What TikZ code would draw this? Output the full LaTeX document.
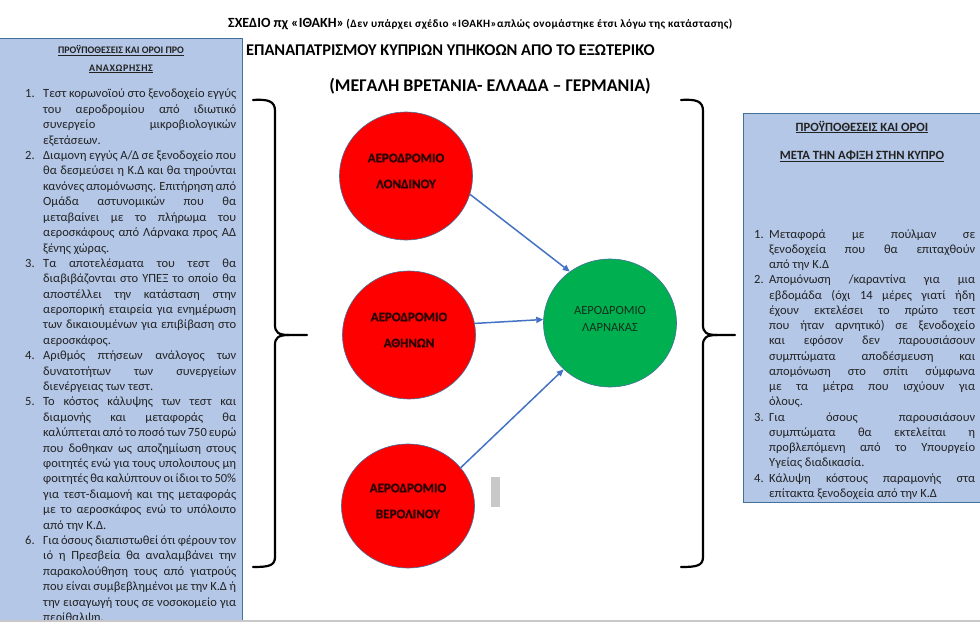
\documentclass[tikz,border=0pt]{standalone}
\usepackage{fontspec}
\setmainfont{Carlito}
\usetikzlibrary{shapes.geometric,arrows.meta}
\definecolor{panel}{HTML}{B4C7E7}
\definecolor{panelline}{HTML}{41719C}
\definecolor{arrowblue}{HTML}{4472C4}
\definecolor{redfill}{HTML}{FF0000}
\definecolor{greenfill}{HTML}{00B050}
\definecolor{redtext}{HTML}{2A0000}
\definecolor{greentext}{HTML}{10301A}
\definecolor{bodytext}{HTML}{222222}
\definecolor{barfill}{HTML}{C8C8C8}
\newlength\numw
\newcommand\txj[2]{\hbox to \hsize{\hbox to \numw{#1\hfil}\hbox to \dimexpr\hsize-\numw\relax{#2}}}
\newcommand\txl[2]{\hbox to \hsize{\hbox to \numw{#1\hfil}#2\hfil}}
\begin{document}
\begin{tikzpicture}[x=1pt,y=-1pt,
  panelbox/.style={fill=panel,draw=panelline,line width=1pt},
  airport/.style={ellipse,draw=panelline,line width=0.6pt,minimum width=133pt,minimum height=128pt,inner sep=0pt},
  redair/.style={airport,fill=redfill},
  greenair/.style={airport,fill=greenfill},
  redlbl/.style={font=\fontsize{13}{26}\selectfont\bfseries\addfontfeature{FakeBold=1},text=redtext,align=center,inner sep=0pt},
  greenlbl/.style={font=\fontsize{12.5}{17}\selectfont,text=greentext,align=center,inner sep=0pt},
  flow/.style={draw=arrowblue,line width=1.5pt,-{Triangle[length=7pt,width=6pt]}},
  bracestyle/.style={line width=2.2pt,line cap=round,line join=round},
  bodytxt/.style={font=\fontsize{12.5}{15.4}\selectfont,text=bodytext,inner sep=0pt,anchor=base west},
  lheadtxt/.style={font=\fontsize{10}{12}\selectfont\bfseries,text=bodytext,inner sep=0pt,anchor=base},
  rheadtxt/.style={font=\fontsize{12.6}{14}\selectfont\bfseries,text=bodytext,inner sep=0pt,anchor=base},
  titletxt/.style={font=\fontsize{16.4}{18}\selectfont\bfseries,text=black,inner sep=0pt}
]
\useasboundingbox (0,0) rectangle (980,626);
\fill[white] (0,0) rectangle (980,626);

% panels
\path[panelbox] (-5,39) rectangle (242,630);
\path[panelbox] (743,113) rectangle (990,502);

% titles
\node[anchor=base west,inner sep=0pt] (t1) at (228,28)
  {{\fontsize{14}{16}\selectfont\bfseries ΣΧΕΔΙΟ πχ «ΙΘΑΚΗ»} {\fontsize{11.2}{12}\selectfont\bfseries\addfontfeature{LetterSpace=4}(Δεν υπάρχει σχέδιο «ΙΘΑΚΗ»απλώς ονομάστηκε έτσι λόγω της κατάστασης)}};
\node[titletxt,anchor=base west] (t2) at (246,56) {ΕΠΑΝΑΠΑΤΡΙΣΜΟΥ ΚΥΠΡΙΩΝ ΥΠΗΚΟΩΝ ΑΠΌ ΤΟ ΕΞΩΤΕΡΙΚΟ};
\node[titletxt,anchor=base,font=\fontsize{17.9}{19}\selectfont\bfseries] (t3) at (490,92) {(ΜΕΓΑΛΗ ΒΡΕΤΑΝΙΑ- ΕΛΛΑΔΑ – ΓΕΡΜΑΝΙΑ)};

% left panel headings
\node[lheadtxt] (lh1) at (121,54) {\underline{ΠΡΟΫΠΟΘΕΣΕΙΣ ΚΑΙ ΟΡΟΙ ΠΡΟ}};
\node[lheadtxt,font=\fontsize{10}{12}\selectfont\bfseries\addfontfeature{LetterSpace=6}] (lh2) at (121,71) {\underline{ΑΝΑΧΩΡΗΣΗΣ}};

% left list
\node[bodytxt] (ltext) at (25,98) {\vtop{\hsize=211pt \numw=18pt \baselineskip=15.4pt \lineskiplimit=-20pt
\txj{1.}{Τεστ κορωνοϊού στο ξενοδοχείο εγγύς}
\txj{}{του αεροδρομίου από ιδιωτικό}
\txj{}{συνεργείο μικροβιολογικών}
\txl{}{εξετάσεων.}
\txj{2.}{Διαμονη εγγύς Α/Δ σε ξενοδοχείο που}
\txj{}{θα δεσμεύσει η Κ.Δ και θα τηρούνται}
\txj{}{κανόνες απομόνωσης. Επιτήρηση από}
\txj{}{Ομάδα αστυνομικών που θα}
\txj{}{μεταβαίνει με το πλήρωμα του}
\txj{}{αεροσκάφους από Λάρνακα προς ΑΔ}
\txl{}{ξένης χώρας.}
\txj{3.}{Τα αποτελέσματα του τεστ θα}
\txj{}{διαβιβάζονται στο ΥΠΕΞ το οποίο θα}
\txj{}{αποστέλλει την κατάσταση στην}
\txj{}{αεροπορική εταιρεία για ενημέρωση}
\txj{}{των δικαιουμένων για επιβίβαση στο}
\txl{}{αεροσκάφος.}
\txj{4.}{Αριθμός πτήσεων ανάλογος των}
\txj{}{δυνατοτήτων των συνεργείων}
\txl{}{διενέργειας των τεστ.}
\txj{5.}{Το κόστος κάλυψης των τεστ και}
\txj{}{διαμονής και μεταφοράς θα}
\txj{}{καλύπτεται από το ποσό των 750 ευρώ}
\txj{}{που δοθηκαν ως αποζημίωση στους}
\txj{}{φοιτητές ενώ για τους υπολοιπους μη}
\txj{}{φοιτητές θα καλύπτουν οι ίδιοι το 50\%}
\txj{}{για τεστ-διαμονή και της μεταφοράς}
\txj{}{με το αεροσκάφος ενώ το υπόλοιπο}
\txl{}{από την Κ.Δ.}
\txj{6.}{Για όσους διαπιστωθεί ότι φέρουν τον}
\txj{}{ιό η Πρεσβεία θα αναλαμβάνει την}
\txj{}{παρακολούθηση τους από γιατρούς}
\txj{}{που είναι συμβεβλημένοι με την Κ.Δ ή}
\txj{}{την εισαγωγή τους σε νοσοκομείο για}
\txl{}{περίθαλψη.}
}};

% right panel headings
\node[rheadtxt] (rh1) at (862,131) {\underline{ΠΡΟΫΠΟΘΕΣΕΙΣ ΚΑΙ ΟΡΟΙ}};
\node[rheadtxt] (rh2) at (862,159) {\underline{ΜΕΤΑ ΤΗΝ ΑΦΙΞΗ ΣΤΗΝ ΚΥΠΡΟ}};

% right list
\node[bodytxt] (rtext) at (754,238) {\vtop{\hsize=221pt \numw=15pt \baselineskip=15.25pt \lineskiplimit=-20pt
\txj{1.}{Μεταφορά με πούλμαν σε}
\txj{}{ξενοδοχεία που θα επιταχθούν}
\txl{}{από την Κ.Δ}
\txj{2.}{Απομόνωση /καραντίνα για μια}
\txj{}{εβδομάδα (όχι 14 μέρες γιατί ήδη}
\txj{}{έχουν εκτελέσει το πρώτο τεστ}
\txj{}{που ήταν αρνητικό) σε ξενοδοχείο}
\txj{}{και εφόσον δεν παρουσιάσουν}
\txj{}{συμπτώματα αποδέσμευση και}
\txj{}{απομόνωση στο σπίτι σύμφωνα}
\txj{}{με τα μέτρα που ισχύουν για}
\txl{}{όλους.}
\txj{3.}{Για όσους παρουσιάσουν}
\txj{}{συμπτώματα θα εκτελείται η}
\txj{}{προβλεπόμενη από το Υπουργείο}
\txl{}{Υγείας διαδικασία.}
\txj{4.}{Κάλυψη κόστους παραμονής στα}
\txl{}{επίτακτα ξενοδοχεία από την Κ.Δ}
}};

% braces
\draw[bracestyle] (253,100) .. controls (268,99) and (275,101) .. (275,111) -- (275,325)
  .. controls (275,332) and (278,335) .. (289,335) -- (307,335);
\draw[bracestyle] (289,335) .. controls (278,335) and (275,338) .. (275,345) -- (275,557)
  .. controls (275,566) and (268,567) .. (253,567);
\begin{scope}[xshift=428pt]
\draw[bracestyle] (253,100) .. controls (268,99) and (275,101) .. (275,111) -- (275,325)
  .. controls (275,332) and (278,335) .. (289,335) -- (307,335);
\draw[bracestyle] (289,335) .. controls (278,335) and (275,338) .. (275,345) -- (275,557)
  .. controls (275,566) and (268,567) .. (253,567);
\end{scope}

% airports
\node[redair] (lon) at (406,176) {};
\node[redair] (ath) at (409,335) {};
\node[redair,minimum height=124pt] (ber) at (408,506) {};
\node[greenair] (lar) at (610,323) {};
\node[redlbl] (lont) at (406,171) {ΑΕΡΟΔΡΟΜΙΟ\\ΛΟΝΔΙΝΟΥ};
\node[redlbl] (atht) at (409,330) {ΑΕΡΟΔΡΟΜΙΟ\\ΑΘΗΝΩΝ};
\node[redlbl] (bert) at (408,501) {ΑΕΡΟΔΡΟΜΙΟ\\ΒΕΡΟΛΙΝΟΥ};
\node[greenlbl] (lart) at (610,318.5) {ΑΕΡΟΔΡΟΜΙΟ\\ΛΑΡΝΑΚΑΣ};

% connectors
\draw[flow] (lon.-16) -- (lar.128);
\draw[flow] (ath.10) -- (lar.177);
\draw[flow] (ber.36) -- (lar.225);

% grey mark
\fill[barfill] (491,477) rectangle (500,507);

% bottom strip
\fill[white] (0,620) rectangle (980,626);
\draw[barfill,line width=1.5pt] (0,621) -- (980,621);
\end{tikzpicture}
\end{document}
